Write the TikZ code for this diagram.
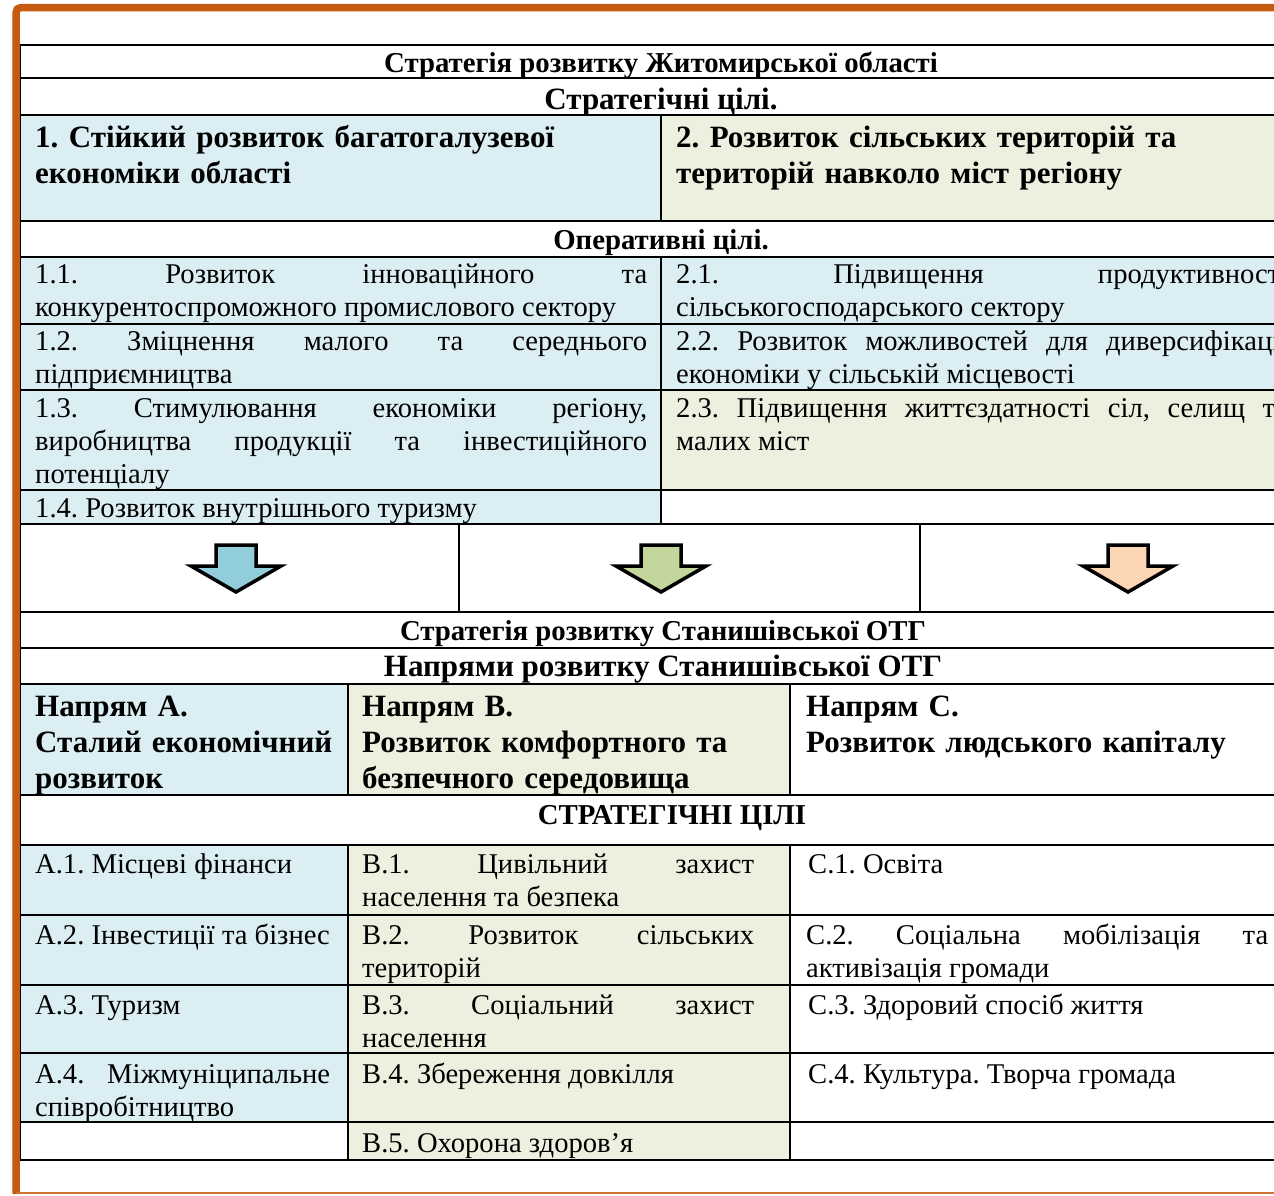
\documentclass[tikz,border=0pt]{standalone}
\usepackage{fontspec}
\setmainfont{Liberation Serif}

\definecolor{cellblue}{HTML}{DAEEF3}
\definecolor{cellgreen}{HTML}{EBF1DE}
\definecolor{frameorange}{HTML}{C55A11}
\definecolor{arrowblue}{HTML}{92CDDC}
\definecolor{arrowgreen}{HTML}{C3D69B}
\definecolor{arrowpeach}{HTML}{FCD5B5}

\tikzset{
    tabline/.style={line width=2pt, black},
    body/.style={anchor=base west, inner sep=0pt, align=justify,
        font=\fontsize{28.6}{33}\selectfont\frenchspacing},
    head/.style={anchor=base west, inner sep=0pt, align=left, text width=600pt,
        font=\fontsize{31}{36}\selectfont\bfseries\frenchspacing},
    title/.style={anchor=base, inner sep=0pt, font=\fontsize{28.8}{32}\selectfont\bfseries},
    bigtitle/.style={title, font=\fontsize{31}{35}\selectfont\bfseries},
    arrowbox/.style={line width=3.5pt, line join=miter, draw=black},
}

\begin{document}
\frenchspacing
\begin{tikzpicture}[x=1pt,y=-1pt]
        \useasboundingbox (0,0) rectangle (1274,1195);
        \clip (0,0) rectangle (1274,1195);
        % cell colours
        \fill[cellblue] (20,115) rectangle (661,221);
        \fill[cellgreen] (661,115) rectangle (1302,221);
        \fill[cellblue] (20,257) rectangle (661,524);
        \fill[cellblue] (661,257) rectangle (1302,390);
        \fill[cellgreen] (661,390) rectangle (1302,490);
        \fill[cellblue] (20,684) rectangle (348,795);
        \fill[cellgreen] (348,684) rectangle (790,795);
        \fill[cellblue] (20,845) rectangle (348,1122);
        \fill[cellgreen] (348,845) rectangle (790,1160);
        % table rules
        \foreach \y in {45,78,115,221,257,324,390,490,524,612,648,684,795,845,915,985,1053,1122,1160}
        {
            \draw[tabline] (20,\y) -- (1302,\y);
        }
        \draw[tabline] (20,45) -- (20,1160);
        \draw[tabline] (661,115) -- (661,221);
        \draw[tabline] (661,257) -- (661,524);
        \foreach \x in {459,920}
        {
            \draw[tabline] (\x,524) -- (\x,612);
        }
        \foreach \x in {348,790}
        {
            \draw[tabline] (\x,684) -- (\x,795);
            \draw[tabline] (\x,845) -- (\x,1160);
        }
        % orange frame
        \draw[frameorange, line width=7.5pt, rounded corners=5pt] (16,1194) -- (16,7.5) -- (1290,7.5);
        \draw[frameorange!85, line width=1.5pt] (16,1193) -- (1290,1193);
        % regional strategy
        \node[title] (oblast) at (661,72) {Стратегія розвитку Житомирської області};
        \node[bigtitle] (stratgoals) at (661,109) {Стратегічні цілі.};
        \node[head] (goal1) at (35,147) {1. Стійкий розвиток багатогалузевої\\економіки області};
        \node[head] (goal2) at (676,147) {2. Розвиток сільських територій та\\територій навколо міст регіону};
        \node[title] (opgoals) at (661,249) {Оперативні цілі.};
        \node[body, text width=612pt] (op11) at (35,283) {1.1. Розвиток інноваційного та\linebreak конкурентоспроможного промислового сектору};
        \node[body, text width=612pt] (op12) at (35,350) {1.2. Зміцнення малого та середнього\linebreak підприємництва};
        \node[body, text width=612pt] (op13) at (35,417) {1.3. Стимулювання економіки регіону,\linebreak виробництва продукції та інвестиційного\linebreak потенціалу};
        \node[body, text width=612pt] (op14) at (35,517) {1.4. Розвиток внутрішнього туризму};
        \node[body, text width=612pt] (op21) at (676,283) {2.1. Підвищення продуктивності\linebreak сільськогосподарського сектору};
        \node[body, text width=612pt] (op22) at (676,350) {2.2. Розвиток можливостей для диверсифікації\linebreak економіки у сільській місцевості};
        \node[body, text width=612pt] (op23) at (676,417) {2.3. Підвищення життєздатності сіл, селищ та\linebreak малих міст};
        % block arrows
        \foreach \cx/\col in {236/arrowblue, 661/arrowgreen, 1128/arrowpeach}
        {
            \draw[arrowbox, fill=\col] ({\cx-20},545) -- ({\cx+20},545) -- ({\cx+20},566)
                -- ({\cx+45},566) -- (\cx,592) -- ({\cx-45},566) -- ({\cx-20},566) -- cycle;
        }
        % community strategy
        \node[title] (otg) at (663,640) {Стратегія розвитку Станишівської ОТГ};
        \node[bigtitle] (directions) at (663,676) {Напрями розвитку Станишівської ОТГ};
        \node[head, text width=310pt] (dirA) at (35,716) {Напрям А.\\Сталий економічний\\розвиток};
        \node[head, text width=420pt] (dirB) at (362,716) {Напрям В.\\Розвиток комфортного та\\безпечного середовища};
        \node[head, text width=460pt] (dirC) at (806,716) {Напрям С.\\Розвиток людського капіталу};
        \node[title] (goalscaps) at (672,824) {СТРАТЕГІЧНІ ЦІЛІ};
        \node[body, text width=295pt] (a1) at (35,873) {А.1.~Місцеві~фінанси};
        \node[body, text width=295pt] (a2) at (35,944) {А.2.~Інвестиції~та~бізнес};
        \node[body, text width=295pt] (a3) at (35,1014) {А.3. Туризм};
        \node[body, text width=295pt] (a4) at (35,1083) {А.4. Міжмуніципальне\linebreak співробітництво};
        \node[body, text width=392pt] (b1) at (362,873) {В.1. Цивільний захист\linebreak населення та безпека};
        \node[body, text width=392pt] (b2) at (362,944) {В.2. Розвиток сільських\linebreak територій};
        \node[body, text width=392pt] (b3) at (362,1014) {В.3. Соціальний захист\linebreak населення};
        \node[body, text width=392pt] (b4) at (362,1083) {В.4. Збереження довкілля};
        \node[body, text width=392pt] (b5) at (362,1152) {В.5. Охорона здоров’я};
        \node[body, text width=460pt] (c1) at (808,873) {С.1. Освіта};
        \node[body, text width=462pt] (c2) at (806,944) {С.2. Соціальна мобілізація та\linebreak активізація громади};
        \node[body, text width=460pt] (c3) at (808,1014) {С.3. Здоровий спосіб життя};
        \node[body, text width=460pt] (c4) at (808,1083) {С.4. Культура. Творча громада};
    \end{tikzpicture}
\end{document}
